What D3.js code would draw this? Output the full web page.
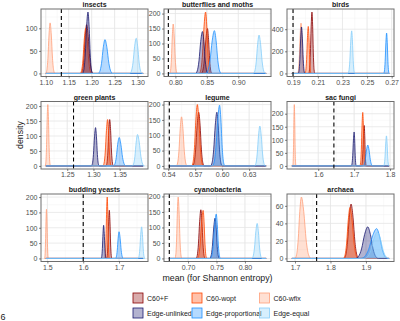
<!DOCTYPE html>
<html>
<head>
<meta charset="utf-8">
<script src="https://cdn.jsdelivr.net/npm/d3@7"></script>
<style>
  body { margin: 0; background: #fff; }
  svg { display: block; font-family: "Liberation Sans", Arial, sans-serif; }
</style>
</head>
<body>
<svg id="chart" width="400" height="321"></svg>
<script>
// facet titles and model series (legend order = drawing order)
const panelNames = ['insects', 'butterflies and moths', 'birds',
                    'green plants', 'legume', 'sac fungi',
                    'budding yeasts', 'cyanobacteria', 'archaea'];
const models = ['C60+F', 'C60-wopt', 'C60-wfix', 'Edge-unlinked', 'Edge-proportional', 'Edge-equal'];
const modelColors = ['#8b0000', '#ff4500', '#ffa07a', '#191970', '#1e90ff', '#87cefa'];

// per-panel x ranges, ticks, and dashed reference value
const xDomains = [[1.0897, 1.3227], [0.7819, 0.952], [0.1849, 0.2719],
                  [1.20, 1.404], [0.5353, 0.6543], [1.513, 1.811],
                  [1.4822, 1.7808], [0.6577, 0.8458], [1.6775, 1.979]];
const xTicks = [[1.10, 1.15, 1.20, 1.25, 1.30], [0.80, 0.85, 0.90], [0.19, 0.21, 0.23, 0.25, 0.27],
                [1.25, 1.30, 1.35], [0.54, 0.57, 0.60, 0.63], [1.6, 1.7, 1.8],
                [1.5, 1.6, 1.7], [0.70, 0.75, 0.80], [1.7, 1.8, 1.9]];
const xDecimals = [2, 2, 2, 2, 2, 1, 1, 2, 1];
const yTicks = [[0, 50, 100], [0, 50, 100, 150, 200], [0, 200, 400],
                [0, 50, 100, 150, 200], [0, 50, 100, 150, 200], [0, 50, 100, 150, 200],
                [0, 50, 100, 150, 200], [0, 50, 100, 150, 200], [0, 20, 40, 60]];
const refLines = [1.134, 0.7888, 0.1898, 1.262, 0.5412, 1.6436, 1.600, 0.667, 1.761];

// density humps per model: [left foot, peak x, right foot, peak density]
const insects = [[1.177, 1.189, 1.203, 108], [1.175, 1.187, 1.200, 100], [1.100, 1.1095, 1.120, 112],
                 [1.180, 1.192, 1.202, 136], [1.214, 1.229, 1.246, 75], [1.283, 1.297, 1.310, 78]];
const butterflies = [[0.841, 0.851, 0.858, 150], [0.838, 0.848, 0.856, 205], [0.791, 0.7965, 0.803, 165],
                     [0.832, 0.843, 0.852, 140], [0.848, 0.862, 0.873, 143], [0.924, 0.933, 0.943, 128]];
const birds = [[0.2025, 0.2052, 0.2075, 555], [0.1995, 0.2022, 0.2045, 425], [0.1935, 0.1963, 0.199, 455],
               [0.194, 0.1967, 0.1995, 420], [0.2635, 0.2659, 0.268, 365], [0.2345, 0.2375, 0.240, 385]];
const greenPlants = [[1.324, 1.331, 1.338, 155], [1.318, 1.327, 1.334, 155], [1.208, 1.213, 1.218, 205],
                     [1.296, 1.304, 1.311, 128], [1.338, 1.349, 1.362, 95], [1.374, 1.384, 1.397, 105]];
const legume = [[0.567, 0.5739, 0.580, 175], [0.566, 0.5724, 0.579, 200], [0.549, 0.5548, 0.561, 160],
                [0.587, 0.5941, 0.600, 175], [0.589, 0.5971, 0.603, 198], [0.636, 0.6419, 0.648, 130]];
const sacFungi = [[1.720, 1.728, 1.734, 155], [1.716, 1.724, 1.731, 205], [1.529, 1.5333, 1.538, 235],
                  [1.692, 1.700, 1.706, 130], [1.724, 1.738, 1.752, 80], [1.782, 1.790, 1.797, 115]];
const buddingYeasts = [[1.665, 1.6729, 1.680, 157], [1.660, 1.667, 1.673, 200], [1.492, 1.4975, 1.503, 160],
                       [1.650, 1.657, 1.664, 108], [1.690, 1.700, 1.712, 87], [1.753, 1.763, 1.772, 103]];
const cyanobacteria = [[0.714, 0.7225, 0.730, 157], [0.716, 0.7265, 0.733, 155], [0.677, 0.6826, 0.689, 198],
                       [0.738, 0.7475, 0.755, 130], [0.739, 0.7495, 0.757, 143], [0.812, 0.8215, 0.830, 113]];
const archaea = [[1.838, 1.858, 1.880, 62], [1.836, 1.855, 1.878, 58], [1.700, 1.718, 1.745, 70],
                 [1.870, 1.905, 1.935, 36], [1.885, 1.930, 1.962, 34], [1.895, 1.932, 1.965, 30]];
const curves = [insects, butterflies, birds, greenPlants, legume, sacFungi, buddingYeasts, cyanobacteria, archaea];

// bell outline used for every hump (fraction of half-width, fraction of peak)
const profile = [[-1, 0], [-0.75, 0.06], [-0.5, 0.3], [-0.25, 0.76], [0, 1],
                 [0.25, 0.76], [0.5, 0.3], [0.75, 0.06], [1, 0]];

const svg = d3.select('#chart');
const colX = [41, 164, 287], rowY = [9, 101.5, 194];
const pw = 107, ph = 67.5;

panelNames.forEach((name, i) => {
  const left = colX[i % 3], top = rowY[Math.floor(i / 3)];
  const dom = xDomains[i];
  const yMax = d3.max(curves[i], d => d[3]);
  const x = d3.scaleLinear().domain(dom).range([left, left + pw]);
  const y = d3.scaleLinear().domain([-0.05 * yMax, 1.05 * yMax]).range([top + ph, top]);

  const g = svg.append('g');
  g.append('rect').attr('x', left).attr('y', top).attr('width', pw).attr('height', ph).attr('fill', '#fff');

  const clipId = 'clip' + i;
  svg.append('clipPath').attr('id', clipId)
    .append('rect').attr('x', left).attr('y', top).attr('width', pw).attr('height', ph);
  const inner = g.append('g').attr('clip-path', `url(#${clipId})`);

  // grid (minor halfway between majors)
  const xt = xTicks[i], xs = xt[1] - xt[0];
  const xMinor = d3.range(-4, 2 * xt.length + 4).map(k => xt[0] + (k + 0.5) * xs / 2 - xs / 4)
    .filter(v => v > dom[0] && v < dom[1]);
  const yt = yTicks[i], ys = yt[1] - yt[0];
  const yMinor = d3.range(-1, yt.length + 1).map(k => yt[0] + (k + 0.5) * ys)
    .filter(v => v > y.domain()[0] && v < y.domain()[1]);
  inner.selectAll('.xm').data(xMinor).join('line')
    .attr('x1', d => x(d)).attr('x2', d => x(d)).attr('y1', top).attr('y2', top + ph)
    .attr('stroke', '#f2f2f2').attr('stroke-width', 0.5);
  inner.selectAll('.ym').data(yMinor).join('line')
    .attr('y1', d => y(d)).attr('y2', d => y(d)).attr('x1', left).attr('x2', left + pw)
    .attr('stroke', '#f2f2f2').attr('stroke-width', 0.5);
  inner.selectAll('.xg').data(xt).join('line')
    .attr('x1', d => x(d)).attr('x2', d => x(d)).attr('y1', top).attr('y2', top + ph)
    .attr('stroke', '#e6e6e6').attr('stroke-width', 0.8);
  inner.selectAll('.yg').data(yt).join('line')
    .attr('y1', d => y(d)).attr('y2', d => y(d)).attr('x1', left).attr('x2', left + pw)
    .attr('stroke', '#e6e6e6').attr('stroke-width', 0.8);

  // densities drawn across the data range
  const span = (dom[1] - dom[0]) / 22;
  const x0 = dom[0] + span, x1 = dom[1] - span;
  const area = d3.area().x(d => x(d[0])).y0(y(0)).y1(d => y(d[1])).curve(d3.curveMonotoneX);
  const line = d3.line().x(d => x(d[0])).y(d => y(d[1])).curve(d3.curveMonotoneX);
  curves[i].forEach((c, m) => {
    const [lo, pk, hi, h] = c;
    const pts = [[x0, 0]].concat(
      profile.map(([t, v]) => [t < 0 ? pk + t * (pk - lo) : pk + t * (hi - pk), v * h]),
      [[x1, 0]]);
    inner.append('path').attr('d', area(pts))
      .attr('fill', modelColors[m]).attr('fill-opacity', 0.33);
    inner.append('path').attr('d', line(pts))
      .attr('fill', 'none').attr('stroke', modelColors[m]).attr('stroke-width', 0.8);
  });

  inner.append('line')
    .attr('x1', x(refLines[i])).attr('x2', x(refLines[i])).attr('y1', top).attr('y2', top + ph)
    .attr('stroke', '#000').attr('stroke-width', 1.1).attr('stroke-dasharray', '4,3');

  g.append('rect').attr('x', left).attr('y', top).attr('width', pw).attr('height', ph)
    .attr('fill', 'none').attr('stroke', '#6e6e6e').attr('stroke-width', 1);

  // axes
  const xa = g.append('g').attr('transform', `translate(0,${top + ph})`)
    .call(d3.axisBottom(x).tickValues(xt).tickSize(2).tickPadding(1.5)
      .tickFormat(d3.format('.' + xDecimals[i] + 'f')));
  const ya = g.append('g').attr('transform', `translate(${left},0)`)
    .call(d3.axisLeft(y).tickValues(yt).tickSize(2).tickPadding(1.5));
  [xa, ya].forEach(a => {
    a.select('.domain').remove();
    a.selectAll('line').attr('stroke', '#333').attr('stroke-width', 0.6);
    a.selectAll('text').attr('fill', '#4d4d4d').attr('font-size', 7).attr('font-family', null);
  });

  g.append('text').attr('x', left + pw / 2).attr('y', top - 2)
    .attr('text-anchor', 'middle').attr('font-size', 7).attr('font-weight', 'bold')
    .attr('fill', '#1a1a1a').text(name);
});

// axis titles
svg.append('text').attr('x', 217.5).attr('y', 281).attr('text-anchor', 'middle')
  .attr('font-size', 8.8).attr('fill', '#1a1a1a').text('mean (for Shannon entropy)');
svg.append('text').attr('transform', 'translate(23,135) rotate(-90)').attr('text-anchor', 'middle')
  .attr('font-size', 8.8).attr('fill', '#1a1a1a').text('density');

// legend, 3 per row
const keyX = [133, 192, 259.5], keyY = [293, 308];
models.forEach((m, k) => {
  const kx = keyX[k % 3], ky = keyY[Math.floor(k / 3)];
  svg.append('rect').attr('x', kx).attr('y', ky).attr('width', 10).attr('height', 10)
    .attr('fill', modelColors[k]).attr('fill-opacity', 0.33)
    .attr('stroke', modelColors[k]).attr('stroke-width', 0.8);
  svg.append('text').attr('x', kx + 14).attr('y', ky + 7.5)
    .attr('font-size', 7).attr('fill', '#1a1a1a').text(m);
});

svg.append('text').attr('x', 0.5).attr('y', 320).attr('font-size', 9).attr('fill', '#1a1a1a').text('6');
</script>
</body>
</html>
